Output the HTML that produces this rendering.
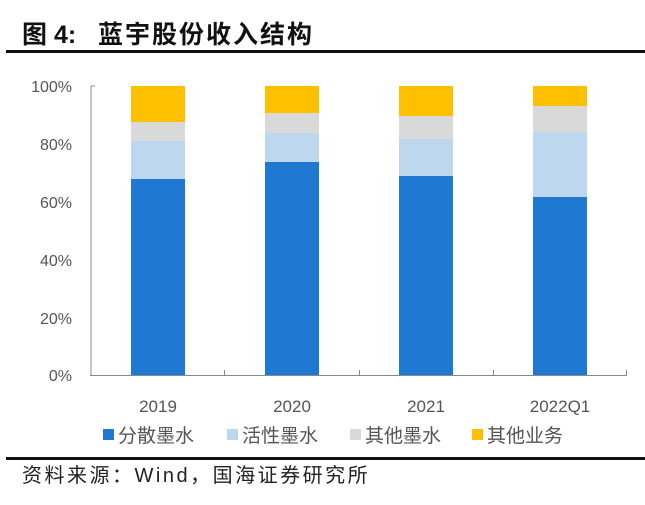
<!DOCTYPE html>
<html><head><meta charset="utf-8"><style>
body{margin:0;background:#fff;width:645px;height:500px;overflow:hidden;font-family:"Liberation Sans","Noto Sans CJK SC",sans-serif;}
</style></head><body>
<svg width="645" height="500" xmlns="http://www.w3.org/2000/svg" font-family="Liberation Sans, Noto Sans CJK SC, sans-serif">
<text x="22" y="43" font-size="25" font-weight="bold" fill="#111">图 4:<tspan x="98" letter-spacing="2">蓝宇股份收入结构</tspan></text>
<rect x="6" y="50" width="639" height="3" fill="#111"/>
<g font-size="16" fill="#555" text-anchor="end">
<text x="72" y="92">100%</text><text x="72" y="150">80%</text><text x="72" y="208">60%</text>
<text x="72" y="266">40%</text><text x="72" y="324">20%</text><text x="72" y="381">0%</text>
</g>
<g stroke="#888" stroke-width="1">
<line x1="91" y1="86" x2="91" y2="375"/><line x1="91" y1="86" x2="95" y2="86"/>
<line x1="90" y1="375.5" x2="627" y2="375.5"/>
<line x1="224.5" y1="370" x2="224.5" y2="375"/><line x1="359.5" y1="370" x2="359.5" y2="375"/>
<line x1="493.5" y1="370" x2="493.5" y2="375"/><line x1="626.5" y1="370" x2="626.5" y2="375"/>
</g>
<g>
<rect x="131" y="86" width="54" height="36" fill="#FFC000"/><rect x="131" y="122" width="54" height="19" fill="#D9D9D9"/><rect x="131" y="141" width="54" height="38" fill="#BDD7EE"/><rect x="131" y="179" width="54" height="196" fill="#1F78D1"/>
<rect x="265" y="86" width="54" height="27" fill="#FFC000"/><rect x="265" y="113" width="54" height="20" fill="#D9D9D9"/><rect x="265" y="133" width="54" height="29" fill="#BDD7EE"/><rect x="265" y="162" width="54" height="213" fill="#1F78D1"/>
<rect x="399" y="86" width="54" height="30" fill="#FFC000"/><rect x="399" y="116" width="54" height="23" fill="#D9D9D9"/><rect x="399" y="139" width="54" height="37" fill="#BDD7EE"/><rect x="399" y="176" width="54" height="199" fill="#1F78D1"/>
<rect x="533" y="86" width="54" height="20" fill="#FFC000"/><rect x="533" y="106" width="54" height="26" fill="#D9D9D9"/><rect x="533" y="132" width="54" height="65" fill="#BDD7EE"/><rect x="533" y="197" width="54" height="178" fill="#1F78D1"/>
</g>
<g font-size="17" fill="#555" text-anchor="middle">
<text x="158" y="412">2019</text><text x="292" y="412">2020</text><text x="426" y="412">2021</text><text x="560" y="412">2022Q1</text>
</g>
<g font-size="19" fill="#555">
<rect x="103" y="429" width="11" height="11" fill="#1F78D1"/><text x="118" y="442">分散墨水</text>
<rect x="227" y="429" width="11" height="11" fill="#BDD7EE"/><text x="242" y="442">活性墨水</text>
<rect x="350" y="429" width="11" height="11" fill="#D9D9D9"/><text x="365" y="442">其他墨水</text>
<rect x="472" y="429" width="11" height="11" fill="#FFC000"/><text x="487" y="442">其他业务</text>
</g>
<rect x="6" y="457" width="639" height="3" fill="#111"/>
<text x="22" y="482" font-size="20" fill="#222" letter-spacing="2.5">资料来源：Wind，国海证券研究所</text>
</svg>
</body></html>
